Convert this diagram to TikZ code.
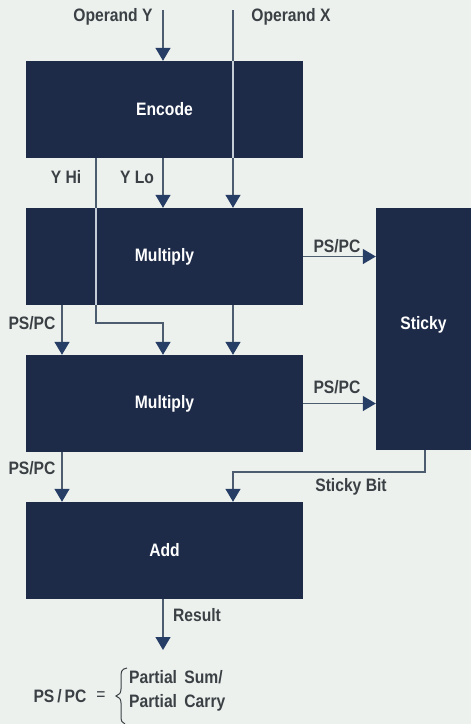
\documentclass[tikz,border=0pt]{standalone}
\usepackage{fontspec}
\setmainfont{Liberation Sans}
\newfontfamily\condf[FakeStretch=0.87]{Liberation Sans}
\usetikzlibrary{arrows.meta}
\definecolor{bg}{HTML}{EDF1EE}
\definecolor{boxc}{HTML}{1D2A48}
\definecolor{linec}{HTML}{4E5C70}
\definecolor{tipc}{HTML}{263E66}
\definecolor{lightl}{HTML}{C4CCD6}
\definecolor{txt}{HTML}{3A4044}
\tikzset{
  blk/.style={rectangle, fill=boxc, inner sep=0pt, text=white, font=\condf\fontsize{18}{21}\selectfont\bfseries},
  lbl/.style={inner sep=0pt, text=txt, font=\condf\fontsize{18}{21}\selectfont\bfseries},
  conn/.style={draw=linec, line width=1.3pt},
  arr/.style={conn, -{Triangle[length=13pt,width=15pt,color=tipc]}},
  over/.style={draw=lightl, line width=1.3pt}
}
\begin{document}
\begin{tikzpicture}[x=1pt,y=-1pt]
\fill[bg] (0,0) rectangle (471,724);
\useasboundingbox (0,0) rectangle (471,724);
% blocks
\node[blk, minimum width=277pt, minimum height=97pt] (enc) at (164.5,109.5) {Encode};
\node[blk, minimum width=277pt, minimum height=97pt] (mul1) at (164.5,256.5) {Multiply};
\node[blk, minimum width=277pt, minimum height=97pt] (mul2) at (164.5,403.5) {Multiply};
\node[blk, minimum width=277pt, minimum height=97pt] (add) at (164.5,550.5) {Add};
\node[blk, minimum width=95pt, minimum height=242pt] (st) at (423.5,329) {};
\node[blk] (stt) at (423.5,325) {Sticky};
% coordinates
\coordinate (oy) at (163,10);
\coordinate (ox) at (233,10);
\coordinate (yhi) at (96,158);
\coordinate (yhib) at (96,323);
\coordinate (yhic) at (163,323);
\coordinate (ylo) at (163,158);
\coordinate (lx) at (62,0);
\coordinate (rx) at (233,0);
\coordinate (sb1) at (425,450);
\coordinate (sb2) at (425,472);
\coordinate (sb3) at (233,472);
\coordinate (res) at (163,599);
\coordinate (resb) at (163,650);
% connectors
\draw[arr] (oy) -- (oy |- enc.north);
\draw[arr] (ox) -- (ox |- mul1.north);
\draw[over] (ox |- enc.north) -- (ox |- enc.south);
\draw[arr] (ylo) -- (ylo |- mul1.north);
\draw[arr] (yhi) -- (yhib) -- (yhic) -- (yhic |- mul2.north);
\draw[over] (yhi |- mul1.north) -- (yhi |- mul1.south);
\draw[arr] (mul1.east) -- (mul1.east -| st.west);
\draw[arr] (mul2.east) -- (mul2.east -| st.west);
\draw[arr] (lx |- mul1.south) -- (lx |- mul2.north);
\draw[arr] (rx |- mul1.south) -- (rx |- mul2.north);
\draw[arr] (lx |- mul2.south) -- (lx |- add.north);
\draw[arr] (sb1) -- (sb2) -- (sb3) -- (sb3 |- add.north);
\draw[arr] (res) -- (resb);
% labels
\node[lbl] (lOY) at (113,17) {Operand Y};
\node[lbl] (lOX) at (291,17) {Operand X};
\node[lbl] (lYH) at (66,177) {Y Hi};
\node[lbl] (lYL) at (137,177) {Y Lo};
\node[lbl] (lp1) at (337,246) {PS/PC};
\node[lbl] (lp2) at (337,387) {PS/PC};
\node[lbl] (lp3) at (32,323) {PS/PC};
\node[lbl] (lp4) at (32,468) {PS/PC};
\node[lbl] (lsb) at (351,487) {Sticky Bit};
\node[lbl] (lres) at (197,615) {Result};
\node[lbl] (fps) at (60,696) {PS\,/\,PC};
\node[lbl, font=\condf\fontsize{18}{21}\selectfont] (feq) at (101,696) {=};
\node[lbl, anchor=west] (fs) at (129,677) {Partial\, Sum/};
\node[lbl, anchor=west] (fc) at (129,703) {Partial\, Carry};
\draw[draw=txt, line width=1pt] (127,668) .. controls (121,669) and (121,672) .. (121,678) -- (121,689) .. controls (121,693) and (119,695) .. (116,696) .. controls (119,697) and (121,699) .. (121,703) -- (121,716) .. controls (121,721) and (122,723) .. (125,724);
\end{tikzpicture}
\end{document}
